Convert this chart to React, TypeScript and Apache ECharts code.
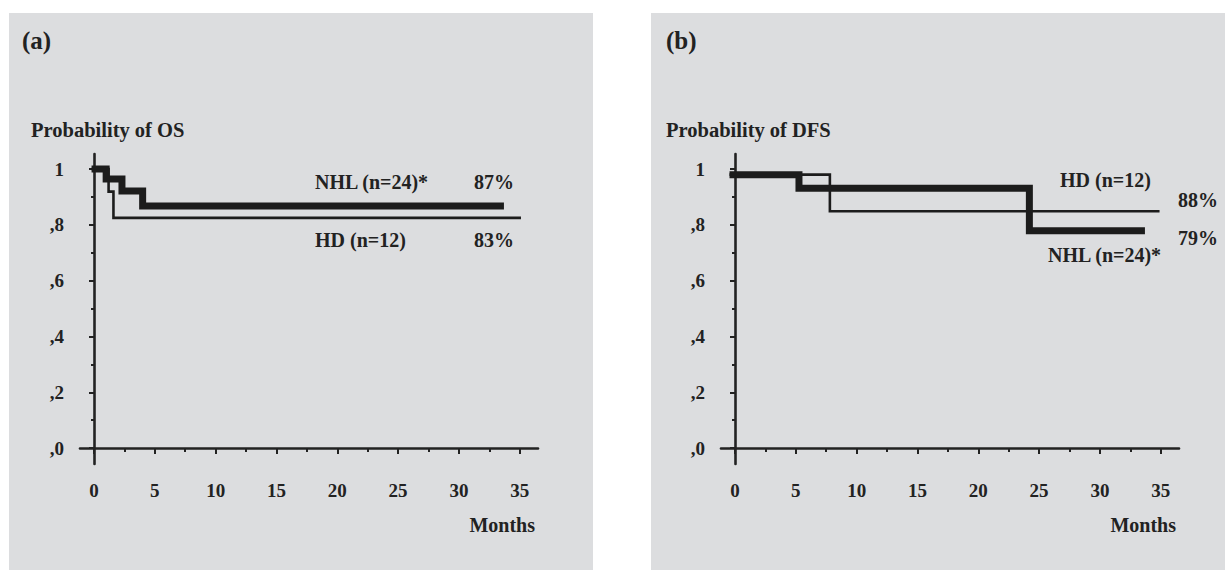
import React, { useEffect, useRef } from "react";
import * as echarts from "echarts";

// ---- data ----
const osNhlMonths = [-0.2, 1.0, 2.3, 4.0, 33.7];
const osNhlProb = [1.0, 0.964, 0.921, 0.868, 0.868];
const osHdMonths = [-0.2, 1.2, 1.6, 35.1];
const osHdProb = [1.0, 0.919, 0.825, 0.825];

const dfsNhlMonths = [-0.45, 5.26, 24.2, 33.7];
const dfsNhlProb = [0.98, 0.931, 0.779, 0.779];
const dfsHdMonths = [-0.45, 7.8, 34.9];
const dfsHdProb = [0.98, 0.849, 0.849];

const xMajorTicks = [0, 5, 10, 15, 20, 25, 30, 35];
const xMinorTicks = [2.5, 7.5, 12.5, 17.5, 22.5, 27.5, 32.5];
const yMajorTicks = [0, 0.2, 0.4, 0.6, 0.8, 1];
const yMinorTicks = [0.1, 0.3, 0.5, 0.7, 0.9];

const FONT = "'Liberation Serif', 'Times New Roman', serif";
const INK = "#222222";
const BG = "#dcdddf";

const X_MIN = -1.15;
const X_MAX = 36.5;
const Y_MIN = -0.057;
const Y_MAX = 1.054;

function pairs(xs: number[], ys: number[]) {
  return xs.map((x, i) => [x, ys[i]]);
}

function xAxes(gridIndex: number) {
  const base = {
    type: "value",
    gridIndex,
    min: X_MIN,
    max: X_MAX,
    position: "bottom",
    splitLine: { show: false },
  };
  return [
    {
      ...base,
      axisLine: { show: true, lineStyle: { color: INK, width: 2.6 } },
      axisTick: { show: false },
      axisLabel: { show: false },
    },
    {
      ...base,
      offset: 3,
      axisLine: { show: false },
      axisTick: {
        show: true,
        length: 6,
        customValues: xMajorTicks,
        lineStyle: { color: INK, width: 2 },
      },
      axisLabel: {
        show: true,
        customValues: xMajorTicks,
        margin: 14,
        fontFamily: FONT,
        fontWeight: "bold",
        fontSize: 19,
        color: INK,
      },
    },
    {
      ...base,
      offset: 3,
      axisLine: { show: false },
      axisTick: {
        show: true,
        length: 4,
        customValues: xMinorTicks,
        lineStyle: { color: INK, width: 2 },
      },
      axisLabel: { show: false },
    },
  ];
}

function yAxes(gridIndex: number) {
  const base = {
    type: "value",
    gridIndex,
    min: Y_MIN,
    max: Y_MAX,
    position: "left",
    splitLine: { show: false },
  };
  return [
    {
      ...base,
      axisLine: { show: true, lineStyle: { color: INK, width: 2.6 } },
      axisTick: { show: false },
      axisLabel: { show: false },
    },
    {
      ...base,
      offset: 3,
      axisLine: { show: false },
      axisTick: {
        show: true,
        length: 5,
        customValues: yMajorTicks,
        lineStyle: { color: INK, width: 2 },
      },
      axisLabel: {
        show: true,
        customValues: yMajorTicks,
        margin: 13,
        fontFamily: FONT,
        fontWeight: "bold",
        fontSize: 19,
        color: INK,
        formatter: (v: number) =>
          Math.abs(v - 1) < 1e-6 ? "1" : "," + Math.round(v * 10),
      },
    },
    {
      ...base,
      offset: 3,
      axisLine: { show: false },
      axisTick: {
        show: true,
        length: 3,
        customValues: yMinorTicks,
        lineStyle: { color: INK, width: 2 },
      },
      axisLabel: { show: false },
    },
  ];
}

function stepSeries(
  name: string,
  data: number[][],
  xIdx: number,
  yIdx: number,
  width: number
) {
  return {
    type: "line",
    name,
    xAxisIndex: xIdx,
    yAxisIndex: yIdx,
    data,
    step: "end",
    symbol: "none",
    silent: true,
    lineStyle: { color: "#1c1c1c", width, cap: "butt", join: "miter" },
    z: width > 4 ? 3 : 4,
  };
}

function txt(
  text: string,
  x: number,
  y: number,
  size: number,
  align: string = "left",
  weight: string = "bold"
) {
  return {
    type: "text",
    x,
    y,
    z: 10,
    style: {
      text,
      fill: INK,
      font: `${weight} ${size}px ${FONT}`,
      textAlign: align,
      textVerticalAlign: "middle",
    },
  };
}

export default function App() {
  const ref = useRef<HTMLDivElement>(null);

  useEffect(() => {
    if (!ref.current) return;
    const chart = echarts.init(ref.current, undefined, { renderer: "svg" });

    const option: any = {
      animation: false,
      backgroundColor: "#ffffff",
      grid: [
        { left: 80, top: 154, width: 458, height: 310 },
        { left: 721, top: 154, width: 458, height: 310 },
      ],
      xAxis: [...xAxes(0), ...xAxes(1)],
      yAxis: [...yAxes(0), ...yAxes(1)],
      series: [
        stepSeries("NHL (n=24)* OS", pairs(osNhlMonths, osNhlProb), 0, 0, 7),
        stepSeries("HD (n=12) OS", pairs(osHdMonths, osHdProb), 0, 0, 2.6),
        stepSeries("NHL (n=24)* DFS", pairs(dfsNhlMonths, dfsNhlProb), 3, 3, 7),
        stepSeries("HD (n=12) DFS", pairs(dfsHdMonths, dfsHdProb), 3, 3, 2.6),
      ],
      graphic: [
        {
          type: "rect",
          z: -10,
          silent: true,
          shape: { x: 9, y: 13, width: 584, height: 557 },
          style: { fill: BG },
        },
        {
          type: "rect",
          z: -10,
          silent: true,
          shape: { x: 651, y: 13, width: 574, height: 557 },
          style: { fill: BG },
        },
        txt("(a)", 22, 40, 25),
        txt("Probability of OS", 31, 130, 20.5),
        txt("NHL (n=24)*", 315, 182, 20),
        txt("87%", 474, 182, 20),
        txt("HD (n=12)", 315, 240, 20),
        txt("83%", 474, 240, 20),
        txt("Months", 535, 525, 20, "right"),
        txt("(b)", 666, 40, 25),
        txt("Probability of DFS", 666, 130, 20.5),
        txt("HD (n=12)", 1060, 180, 20),
        txt("88%", 1178, 200, 20),
        txt("79%", 1178, 238, 20),
        txt("NHL (n=24)*", 1048, 255, 20),
        txt("Months", 1176, 525, 20, "right"),
      ],
    };

    chart.setOption(option);
    return () => chart.dispose();
  }, []);

  return (
    <div
      ref={ref}
      style={{ position: "fixed", left: 0, top: 0, width: 1225, height: 570 }}
    />
  );
}
